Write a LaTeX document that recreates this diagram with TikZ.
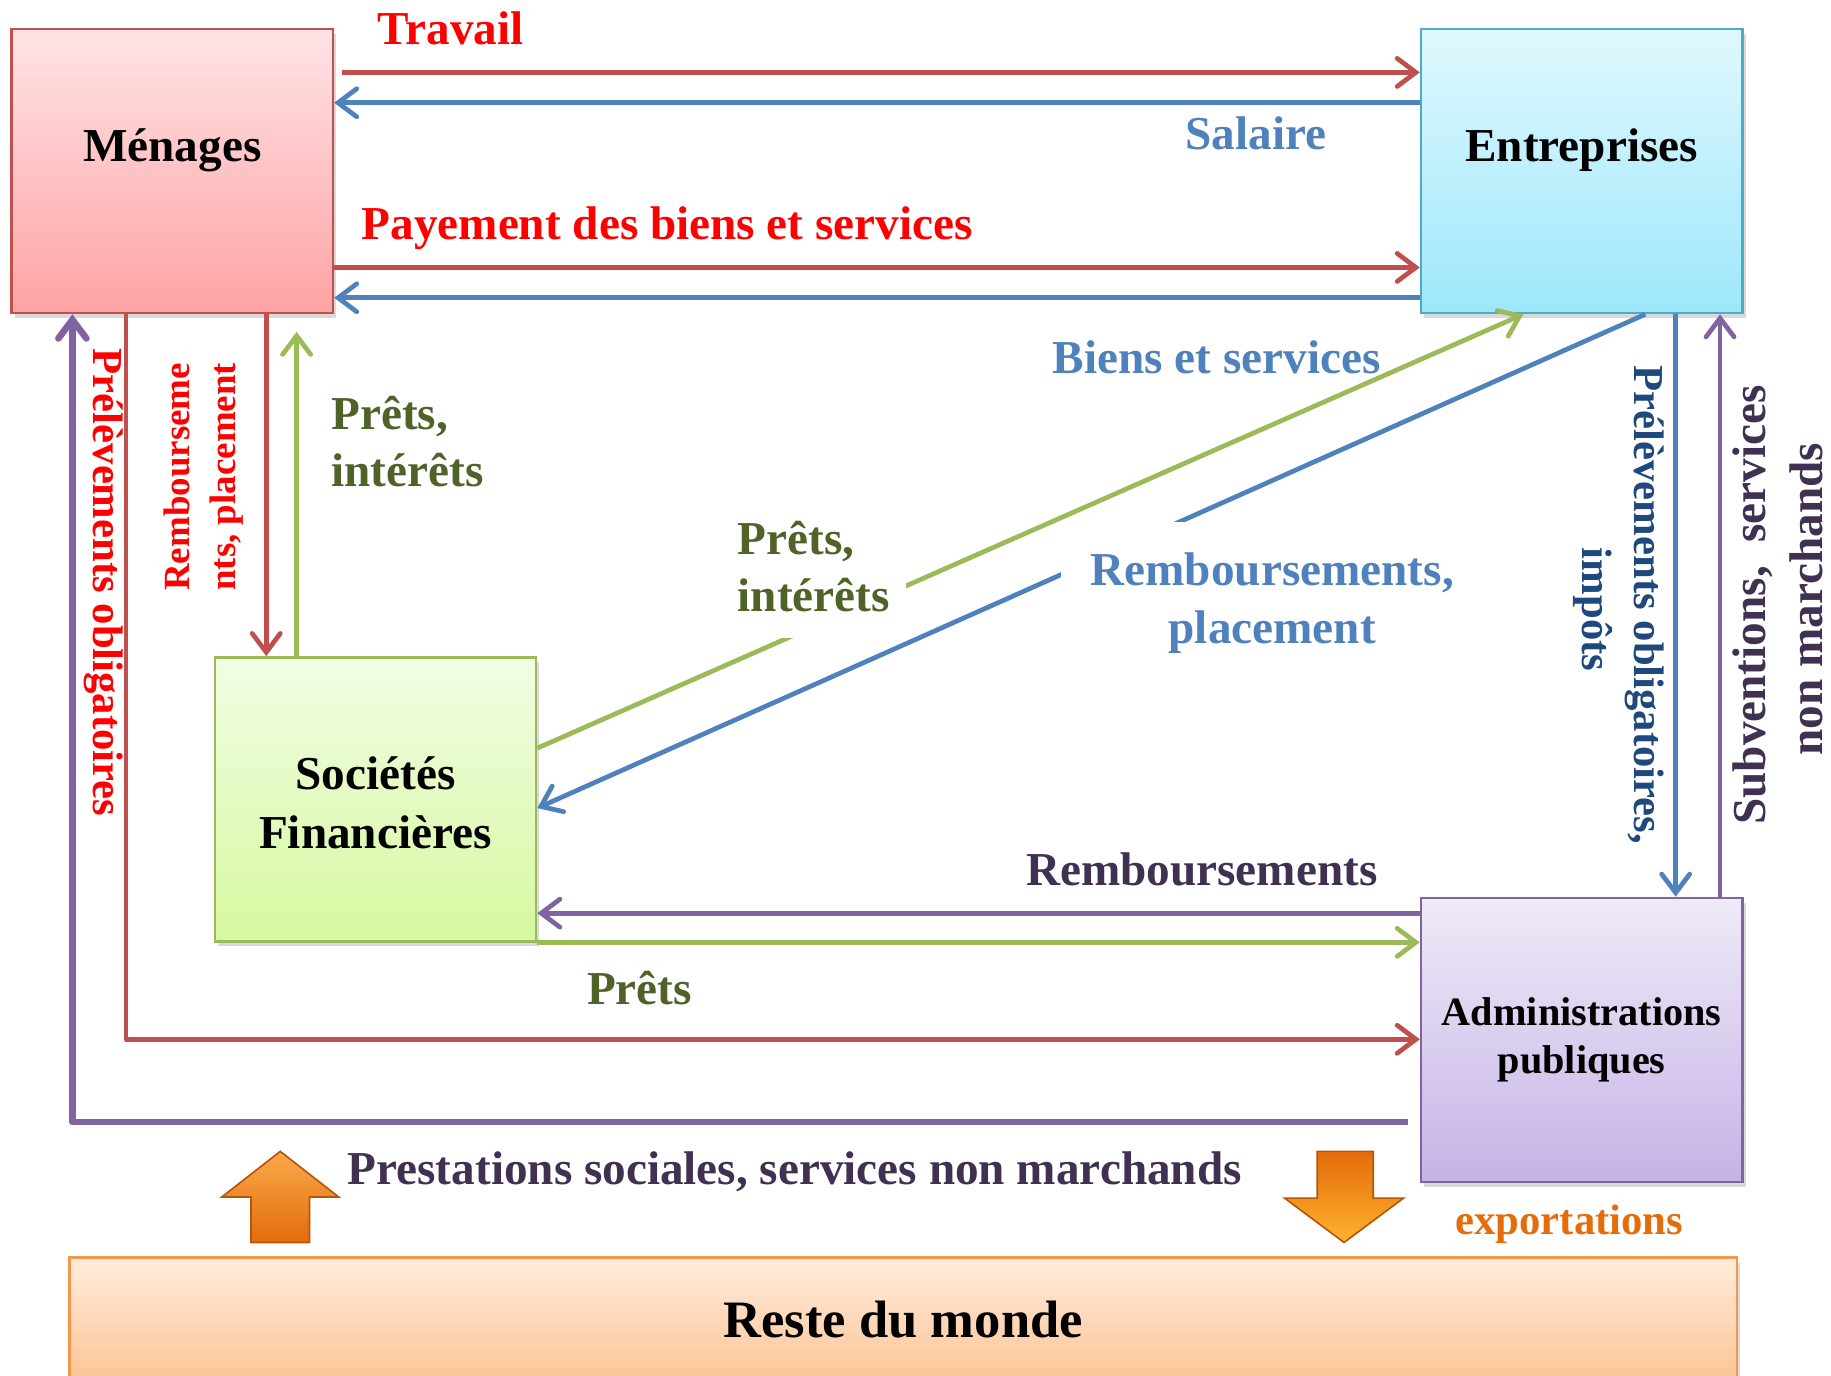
\documentclass[tikz,border=0pt]{standalone}
\usepackage{fontspec}
\setmainfont{Liberation Serif}
\usetikzlibrary{arrows.meta,calc,shadows}
\definecolor{arRed}{HTML}{C0504D}
\definecolor{arBlue}{HTML}{4F81BD}
\definecolor{arGreen}{HTML}{9BBB59}
\definecolor{arPurple}{HTML}{8064A2}
\definecolor{txRed}{HTML}{FF0000}
\definecolor{txBlue}{HTML}{4F81BD}
\definecolor{txDkBlue}{HTML}{1F497D}
\definecolor{txGreen}{HTML}{4F6228}
\definecolor{txPurple}{HTML}{403152}
\definecolor{txOrange}{HTML}{E46C0A}
\definecolor{menTop}{HTML}{FFE3E6}
\definecolor{menBot}{HTML}{FFA3A3}
\definecolor{entTop}{HTML}{E0F8FE}
\definecolor{entBot}{HTML}{9DE7FB}
\definecolor{entBorder}{HTML}{4BACC6}
\definecolor{sfTop}{HTML}{F2FDE4}
\definecolor{sfBot}{HTML}{D6F8A0}
\definecolor{apTop}{HTML}{EFEAF8}
\definecolor{apBot}{HTML}{C6B3E6}
\definecolor{rdmTop}{HTML}{FFECDD}
\definecolor{rdmBot}{HTML}{FCC28F}
\definecolor{rdmBorder}{HTML}{F79646}
\definecolor{orLight}{HTML}{FBA94A}
\definecolor{orDark}{HTML}{E36C0A}
\definecolor{orYellow}{HTML}{FFB22E}
\begin{document}
\begin{tikzpicture}[x=0.01cm,y=-0.01cm,
  box/.style={draw, line width=0.6pt, inner sep=0pt,
    minimum width=2.75cm, minimum height=2.43cm,
    drop shadow={shadow xshift=0.8pt, shadow yshift=-1.2pt, opacity=0.3}},
  flow/.style={line width=1.15pt, line join=round,
    -{Straight Barb[length=1.6mm,width=2.4mm,line cap=round]}},
  big/.style={font=\bfseries\fontsize{11.5}{13.8}\selectfont, inner sep=0pt},
  mid/.style={font=\bfseries\fontsize{10.4}{12.5}\selectfont, inner sep=0pt},
  small/.style={font=\bfseries\fontsize{9}{11}\selectfont, inner sep=0pt},
  apfont/.style={font=\bfseries\fontsize{9.8}{12}\selectfont, inner sep=0pt},
  rdmfont/.style={font=\bfseries\fontsize{12.8}{15}\selectfont, inner sep=0pt},
  blockarrow/.style={draw=orDark!80!black, line width=0.4pt}
]
\useasboundingbox (0,0) rectangle (1568,1178);

% ---------- boxes ----------
\node[box, draw=arRed, top color=menTop, bottom color=menBot] (men) at (147.5,146.5) {};
\node[box, draw=entBorder, top color=entTop, bottom color=entBot] (ent) at (1354.5,146.5) {};
\node[box, draw=arGreen, top color=sfTop, bottom color=sfBot] (sf) at (321.5,684.5) {};
\node[box, draw=arPurple, top color=apTop, bottom color=apBot] (ap) at (1354.5,890.5) {};
\node[box, draw=rdmBorder, top color=rdmTop, bottom color=rdmBot,
      minimum width=14.27cm, minimum height=1.13cm] (rdm) at (773.5,1133.5) {};

% ---------- connectors ----------
\coordinate (travStart) at ($(men.east |- 0,62)+(7,0)$);
\draw[flow, arRed] (travStart) -- (ent.west |- 0,62);
\draw[flow, arBlue] (ent.west |- 0,88) -- (men.east |- 0,88);
\draw[flow, arRed] (men.east |- 0,229) -- (ent.west |- 0,229);
\draw[flow, arBlue] (ent.west |- 0,255) -- (men.east |- 0,255);

\draw[flow, arRed] (men.south -| 228,0) -- (sf.north -| 228,0);
\coordinate (greenTip) at ($(men.south -| 254,0)+(0,15)$);
\draw[flow, arGreen] (sf.north -| 254,0) -- (greenTip);

\coordinate (purpleStart) at ($(ap.west |- 0,961)+(-10,0)$);
\draw[flow, arPurple, line width=1.6pt] (purpleStart) -- (62,961) -- (men.south -| 62,0);
\draw[flow, arRed] (men.south -| 108,0) -- (108,890) -- (ap.west |- 0,890);

\draw[flow, arGreen] (sf.east |- 0,640.7) -- (ent.south -| 1304.5,0);
\draw[flow, arBlue] (ent.south -| 1409,0) -- (sf.east |- 0,692);

\draw[flow, arPurple] (ap.west |- 0,782) -- (sf.east |- 0,782);
\draw[flow, arGreen] (sf.east |- 0,807) -- (ap.west |- 0,807);

\draw[flow, arBlue] (ent.south -| 1435,0) -- (ap.north -| 1435,0);
\draw[flow, arPurple] (ap.north -| 1473,0) -- (ent.south -| 1473,0);

% white backgrounds behind the diagonal labels
\fill[white] (625,439) rectangle (776,546);
\fill[white] (909,447) rectangle (1250,562);

% ---------- block arrows ----------
\filldraw[blockarrow, top color=orLight, bottom color=orDark]
  (240,986) -- (290,1025) -- (265,1025) -- (265,1064) -- (215,1064)
  -- (215,1025) -- (190,1025) -- cycle;
\filldraw[blockarrow, top color=orDark, bottom color=orYellow]
  (1128,986) -- (1176,986) -- (1176,1026) -- (1202,1026) -- (1151,1064)
  -- (1100,1026) -- (1128,1026) -- cycle;

% ---------- box texts ----------
\node[big, anchor=base] (tMen) at (147.5,138) {Ménages};
\node[big, anchor=base] (tEnt) at (1354.5,138) {Entreprises};
\node[big, anchor=base] (tSf1) at (321.5,676.5) {Sociétés};
\node[big, anchor=base] (tSf2) at (321.5,726.5) {Financières};
\node[apfont, anchor=base] (tAp1) at (1354.5,878) {Administrations};
\node[apfont, anchor=base] (tAp2) at (1354.5,919) {publiques};
\node[rdmfont, anchor=base] (tRdm) at (773.5,1145) {Reste du monde};

% ---------- labels ----------
\node[big, text=txRed, anchor=base west] (lTrav) at (322.6,38.5) {Travail};
\node[big, text=txBlue, anchor=base west] (lSal) at (1014.5,128.4) {Salaire};
\node[big, text=txRed, anchor=base west] (lPay) at (309,205) {Payement des biens et services};
\node[big, text=txBlue, anchor=base west] (lBiens) at (901,320) {Biens et services};

\node[big, text=txGreen, anchor=base west] (lPi1) at (283,367.5) {Prêts,};
\node[big, text=txGreen, anchor=base west] (lPi2) at (283,416.7) {intérêts};
\node[big, text=txGreen, anchor=base west] (lPd1) at (631,475) {Prêts,};
\node[big, text=txGreen, anchor=base west] (lPd2) at (631,524) {intérêts};
\node[big, text=txBlue, anchor=base] (lRp1) at (1089.5,501.7) {Remboursements,};
\node[big, text=txBlue, anchor=base] (lRp2) at (1089.5,550.8) {placement};

\node[big, text=txPurple, anchor=base west] (lRemb) at (878,758) {Remboursements};
\node[big, text=txGreen, anchor=base west] (lPrets) at (502,860.6) {Prêts};
\node[big, text=txPurple, anchor=base west] (lPrest) at (297,1014.6) {Prestations sociales, services non marchands};
\node[mid, text=txOrange, anchor=base] (lExp) at (1344,1057) {exportations};

% rotated labels
\node[mid, text=txRed, anchor=base west, rotate=-90] (lPrelL) at (80,298) {Prélèvements obligatoires};
\node[small, text=txRed, anchor=base west, rotate=90] (lRpl1) at (162,506.6) {Rembourseme};
\node[small, text=txRed, anchor=base west, rotate=90] (lRpl2) at (202,506.6) {nts, placement};
\node[mid, text=txDkBlue, anchor=base, rotate=-90] (lPrelR1) at (1400,518) {Prélèvements obligatoires,};
\node[mid, text=txDkBlue, anchor=base, rotate=-90] (lPrelR2) at (1355.5,522) {impôts};
\node[big, text=txPurple, anchor=base, rotate=90] (lSub1) at (1512,518) {Subventions,\ \ services};
\node[big, text=txPurple, anchor=base, rotate=90] (lSub2) at (1561,513) {non marchands};
\end{tikzpicture}
\end{document}
